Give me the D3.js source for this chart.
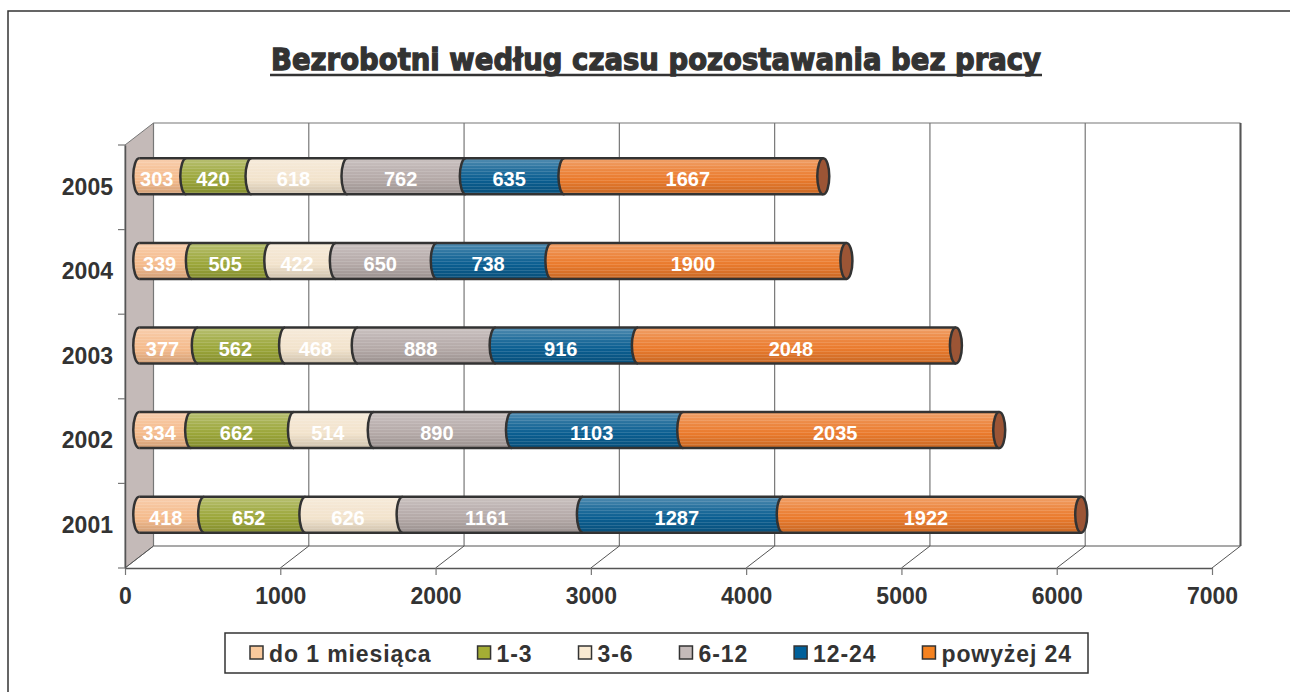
<!DOCTYPE html>
<html>
<head>
<meta charset="utf-8">
<script src="https://cdn.jsdelivr.net/npm/d3@7"></script>
<style>
    body { margin: 0; background: #fff; }
    text { font-family: "Liberation Sans", Arial, sans-serif; font-weight: bold; }
</style>
</head>
<body>
<div id="chart"></div>
<script>
//数据
const years = ["2001", "2002", "2003", "2004", "2005"];
const groups = ["do 1 miesiąca", "1-3", "3-6", "6-12", "12-24", "powyżej 24"];
const v_do1 = [418, 334, 377, 339, 303];
const v_1_3 = [652, 662, 562, 505, 420];
const v_3_6 = [626, 514, 468, 422, 618];
const v_6_12 = [1161, 890, 888, 650, 762];
const v_12_24 = [1287, 1103, 916, 738, 635];
const v_24 = [1922, 2035, 2048, 1900, 1667];
const xTicks = [0, 1000, 2000, 3000, 4000, 5000, 6000, 7000];
const title = "Bezrobotni według czasu pozostawania bez pracy";

const barColors = ["#f5bb8c", "#9ba639", "#f2e3cc", "#b4a9a7", "#0a5e91", "#ea7a2c"];
const legendColors = ["#f9c99c", "#a4ad34", "#f9ead2", "#c4bab9", "#00609a", "#f58220"];
const capColor = "#9c5535";

//绘图属性
const width = 1290;
const height = 692;
const dx = 28.5, dy = -22;   //3D 深度偏移
const rx = 6;                //圆柱端面半径
const barH = 36;
const ink = "#333";

var svg = d3.select("#chart").append("svg")
    .attr("width", width).attr("height", height);

var series = [v_do1, v_1_3, v_3_6, v_6_12, v_12_24, v_24];
var rows = years.map(function (y, i) {
    var r = {year: y};
    groups.forEach(function (g, k) { r[g] = series[k][i]; });
    return r;
});
var stacked = d3.stack().keys(groups)(rows);

var x = d3.scaleLinear().domain([0, 7000]).range([125, 1212]);
var y = d3.scaleBand().domain(years.slice().reverse()).range([145, 568]);
var y0 = y.range()[1], y1 = y.range()[0];

//渐变
var defs = svg.append("defs");
barColors.forEach(function (c, i) {
    var gr = defs.append("linearGradient").attr("id", "grad" + i)
        .attr("x1", 0).attr("y1", 0).attr("x2", 0).attr("y2", 1);
    gr.append("stop").attr("offset", "0%").attr("stop-color", d3.interpolateRgb(c, "#fff")(0.3));
    gr.append("stop").attr("offset", "30%").attr("stop-color", d3.interpolateRgb(c, "#fff")(0.12));
    gr.append("stop").attr("offset", "60%").attr("stop-color", c);
    gr.append("stop").attr("offset", "100%").attr("stop-color", d3.interpolateRgb(c, "#000")(0.15));
});
var pat = defs.append("pattern").attr("id", "stripes")
    .attr("patternUnits", "userSpaceOnUse").attr("width", 8).attr("height", 3);
pat.append("rect").attr("width", 8).attr("height", 1).attr("fill", "#fff").attr("opacity", 0.13);

//外框
svg.append("rect").attr("x", 8).attr("y", 11).attr("width", 1400).attr("height", 800)
    .attr("fill", "none").attr("stroke", ink).attr("stroke-width", 1.5);

//标题
svg.append("text")
    .attr("x", 656).attr("y", 70)
    .attr("text-anchor", "middle")
    .attr("textLength", 770).attr("lengthAdjust", "spacingAndGlyphs")
    .style("font-family", "'DejaVu Sans', sans-serif")
    .style("font-size", "30px")
    .attr("fill", ink).attr("stroke", ink).attr("stroke-width", 1.3)
    .text(title);
svg.append("line").attr("x1", 270).attr("x2", 1042).attr("y1", 75).attr("y2", 75)
    .attr("stroke", ink).attr("stroke-width", 2.5);

//坐标墙
var grid = svg.append("g").attr("id", "walls");
grid.append("path")
    .attr("d", "M" + x(0) + "," + y1 + "L" + (x(0) + dx) + "," + (y1 + dy) +
        "L" + (x(0) + dx) + "," + (y0 + dy) + "L" + x(0) + "," + y0 + "Z")
    .attr("fill", "#c4bab8").attr("stroke", "#777").attr("stroke-width", 1);

grid.selectAll(".vgrid").data(xTicks).enter().append("line")
    .attr("x1", d => x(d) + dx).attr("x2", d => x(d) + dx)
    .attr("y1", y1 + dy).attr("y2", y0 + dy)
    .attr("stroke", "#777").attr("stroke-width", 1.2);
grid.selectAll(".floor").data(xTicks).enter().append("line")
    .attr("x1", d => x(d)).attr("x2", d => x(d) + dx)
    .attr("y1", y0).attr("y2", y0 + dy)
    .attr("stroke", "#555").attr("stroke-width", 1);
grid.append("line").attr("x1", x(0) + dx).attr("x2", x(7000) + dx)
    .attr("y1", y1 + dy).attr("y2", y1 + dy).attr("stroke", "#777").attr("stroke-width", 1.2);
grid.append("line").attr("x1", x(0) + dx).attr("x2", x(7000) + dx)
    .attr("y1", y0 + dy).attr("y2", y0 + dy).attr("stroke", "#555").attr("stroke-width", 1.2);
grid.append("line").attr("x1", x(7000) + dx).attr("x2", x(7000) + dx)
    .attr("y1", y1 + dy).attr("y2", y0 + dy).attr("stroke", "#555").attr("stroke-width", 2);

//X 轴
var xAxis = svg.append("g").attr("transform", "translate(0," + y0 + ")")
    .call(d3.axisBottom(x).tickValues(xTicks).tickFormat(d3.format("d"))
        .tickSize(7).tickPadding(13).tickSizeOuter(0));
xAxis.select(".domain").attr("stroke", "#555").attr("stroke-width", 1.5);
xAxis.selectAll(".tick line").attr("stroke", "#777").attr("stroke-width", 1.2);
xAxis.selectAll("text").attr("fill", ink)
    .style("font-family", "'Liberation Sans', Arial, sans-serif")
    .style("font-size", "23px").style("font-weight", "bold");

//Y 轴
var yAxis = svg.append("g").attr("transform", "translate(" + x(0) + ",0)")
    .call(d3.axisLeft(y).tickSize(0).tickPadding(12));
yAxis.select(".domain").attr("stroke", "#555").attr("stroke-width", 1.5);
yAxis.selectAll("text").attr("fill", ink)
    .style("font-family", "'Liberation Sans', Arial, sans-serif")
    .style("font-size", "23px").style("font-weight", "bold");
var bounds = years.map(d => y(d)).concat([y0]);
svg.append("g").selectAll("line").data(bounds).enter().append("line")
    .attr("x1", x(0) - 7).attr("x2", x(0)).attr("y1", d => d).attr("y2", d => d)
    .attr("stroke", "#777").attr("stroke-width", 1.2);

//圆柱
var bars = svg.append("g").attr("id", "bars");
var ry = barH / 2;

function segPath(xs, xe, cy) {
    var t = cy - ry, b = cy + ry;
    return "M" + xs + "," + t + "L" + xe + "," + t +
        "A" + rx + "," + ry + " 0 0 0 " + xe + "," + b +
        "L" + xs + "," + b +
        "A" + rx + "," + ry + " 0 0 1 " + xs + "," + t + "Z";
}

years.forEach(function (yr, i) {
    var cy = y(yr) + y.bandwidth() / 2 + dy / 2;
    var g = bars.append("g");
    var last = stacked[stacked.length - 1][i][1];

    stacked.forEach(function (s, k) {
        var xs = x(s[i][0]) + dx / 2, xe = x(s[i][1]) + dx / 2;
        g.append("path").attr("d", segPath(xs, xe, cy)).attr("fill", "url(#grad" + k + ")");
        g.append("path").attr("d", segPath(xs, xe, cy)).attr("fill", "url(#stripes)");
    });
    //轮廓
    var xa = x(0) + dx / 2, xb = x(last) + dx / 2;
    g.append("line").attr("x1", xa).attr("x2", xb).attr("y1", cy - ry).attr("y2", cy - ry)
        .attr("stroke", ink).attr("stroke-width", 2.5);
    g.append("line").attr("x1", xa).attr("x2", xb).attr("y1", cy + ry).attr("y2", cy + ry)
        .attr("stroke", ink).attr("stroke-width", 2.5);
    stacked.forEach(function (s) {
        var xs = x(s[i][0]) + dx / 2;
        g.append("path")
            .attr("d", "M" + xs + "," + (cy + ry) + "A" + rx + "," + ry + " 0 0 1 " + xs + "," + (cy - ry))
            .attr("fill", "none").attr("stroke", ink).attr("stroke-width", 2.5);
    });
    g.append("ellipse").attr("cx", xb).attr("cy", cy).attr("rx", rx).attr("ry", ry)
        .attr("fill", capColor).attr("stroke", ink).attr("stroke-width", 2.5);

    //数值标签
    stacked.forEach(function (s) {
        var mid = (x(s[i][0]) + x(s[i][1])) / 2 + dx / 2 - 6;
        g.append("text").attr("x", mid).attr("y", cy + 10)
            .attr("text-anchor", "middle").attr("fill", "#fff")
            .style("font-size", "20px")
            .text(s[i].data[s.key]);
    });
});

//图例
var legend = svg.append("g").attr("id", "legend");
legend.append("rect").attr("x", 225).attr("y", 633).attr("width", 863).attr("height", 40)
    .attr("fill", "#fff").attr("stroke", ink).attr("stroke-width", 1.5);
var lx = 250;
groups.forEach(function (g, k) {
    legend.append("rect").attr("x", lx).attr("y", 646).attr("width", 13).attr("height", 13)
        .attr("fill", legendColors[k]).attr("stroke", ink).attr("stroke-width", 1.5);
    var t = legend.append("text").attr("x", lx + 19).attr("y", 662)
        .attr("fill", ink).style("font-size", "23px").style("letter-spacing", "0.9px")
        .text(g);
    lx += 19 + t.node().getComputedTextLength() + 46;
});
</script>
</body>
</html>
